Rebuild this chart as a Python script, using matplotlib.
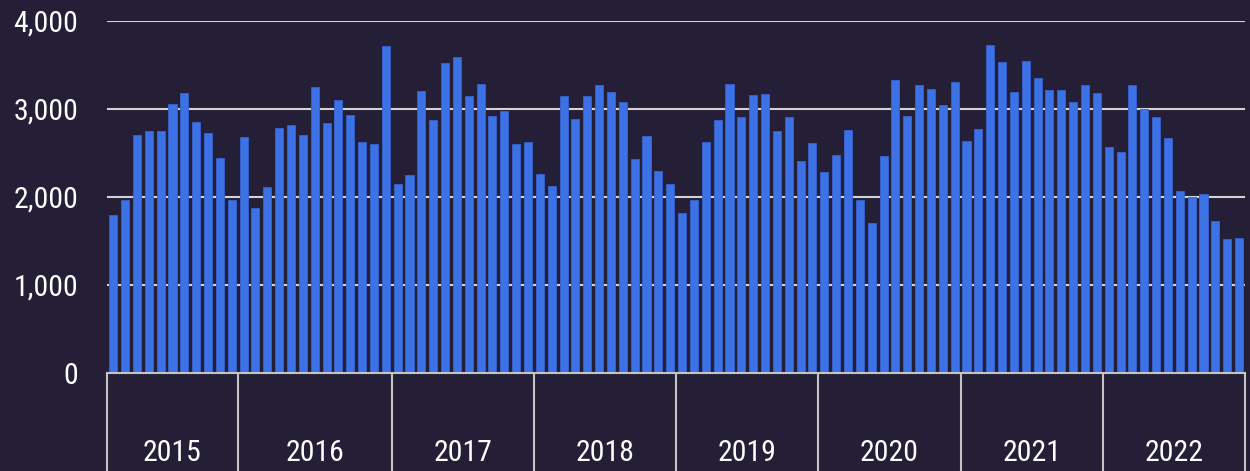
import matplotlib
matplotlib.use("Agg")
import matplotlib.pyplot as plt
import matplotlib.transforms as mtransforms
from matplotlib import font_manager as fm
import numpy as np

years = ["2015", "2016", "2017", "2018", "2019", "2020", "2021", "2022"]
bars_per_year = [11, 13, 12, 12, 12, 12, 12, 12]

values = [
    # 2015
    1790, 1960, 2700, 2750, 2745, 3050, 3178, 2850, 2717, 2433, 1964,
    # 2016
    2675, 1873, 2108, 2781, 2815, 2701, 3243, 2834, 3099, 2925, 2615, 2592, 3712,
    # 2017
    2142, 2244, 3194, 2865, 3515, 3580, 3141, 3281, 2910, 2970, 2592, 2615,
    # 2018
    2255, 2123, 3148, 2876, 3141, 3262, 3183, 3069, 2429, 2683, 2289, 2138,
    # 2019
    1816, 1964, 2615, 2868, 3277, 2902, 3156, 3163, 2747, 2899, 2403, 2607,
    # 2020
    2278, 2467, 2755, 1964, 1699, 2460, 3322, 2910, 3266, 3224, 3035, 3303,
    # 2021
    2634, 2766, 3723, 3527, 3186, 3542, 3349, 3209, 3209, 3073, 3269, 3175,
    # 2022
    2558, 2509, 3269, 2997, 2902, 2664, 2059, 1998, 2025, 1722, 1518, 1529,
]
y_ticks = [0, 1000, 2000, 3000, 4000]


def pick_font():
    cands = []
    for f in fm.fontManager.ttflist:
        fn = f.fname.lower()
        if "italic" in fn or "oblique" in fn or f.style != "normal":
            continue
        w = f.weight if isinstance(f.weight, int) else 400
        narrow = ("condensed" in fn or "narrow" in fn or "condensed" in f.name.lower()
                  or "narrow" in f.name.lower() or f.stretch in ("condensed", "semi-condensed"))
        if not narrow:
            continue
        pref = 0 if "roboto" in fn else (1 if "liberation" in fn else 2)
        cands.append((pref, abs(w - 400), f.fname))
    if cands:
        cands.sort()
        return fm.FontProperties(fname=cands[0][2])
    return fm.FontProperties(family="Roboto")


fprop = pick_font()
fprop.set_size(21.5)

BG = "#241f36"
BAR = "#3d72e6"
GRID = "#d4d4d4"
TXT = "#ffffff"

W, H = 1250, 471
fig = plt.figure(figsize=(W / 100, H / 100), dpi=100, facecolor=BG)
left, right = 107.3 / W, 1245 / W
bottom, top = (H - 372.7) / H, (H - 20.5) / H
ax = fig.add_axes([left, bottom, right - left, top - bottom], facecolor=BG)

x = np.arange(len(values))
ax.bar(x, values, width=0.68, color=BAR, edgecolor="#3563cf", linewidth=0.6, zorder=3)

ax.set_xlim(-0.5, len(values) - 0.5)
ax.set_ylim(0, 4000)
ax.set_yticks(y_ticks)
ax.set_yticklabels([f"{v:,}" for v in y_ticks], color=TXT, fontproperties=fprop)
ax.tick_params(axis='y', length=0, pad=21)
ax.tick_params(axis='x', length=0, labelbottom=False)
ax.set_xticks([])

for v in y_ticks[1:]:
    ax.axhline(v, color=GRID, linewidth=1.5, zorder=2)

for s in ["top", "right", "left"]:
    ax.spines[s].set_visible(False)
ax.spines["bottom"].set_color("#c4c4c4")
ax.spines["bottom"].set_linewidth(1.5)
ax.spines["bottom"].set_zorder(4)

# year group separators and labels
trans = mtransforms.blended_transform_factory(ax.transData, ax.transAxes)
axes_h_px = 372.7 - 20.5
y_low = -(H - 372.7 + 5) / axes_h_px
y_lab = -(453 - 372.7) / axes_h_px
edges = np.concatenate([[0], np.cumsum(bars_per_year)]) - 0.5
for e in edges:
    ax.plot([e, e], [0, y_low], transform=trans, color="#c4c4c4", linewidth=1.5,
            clip_on=False, zorder=4)
for i, yr in enumerate(years):
    c = (edges[i] + edges[i + 1]) / 2
    ax.text(c, y_lab, yr, transform=trans, ha="center", va="center",
            color=TXT, fontproperties=fprop)

fig.savefig("out.png", dpi=100, facecolor=BG)
